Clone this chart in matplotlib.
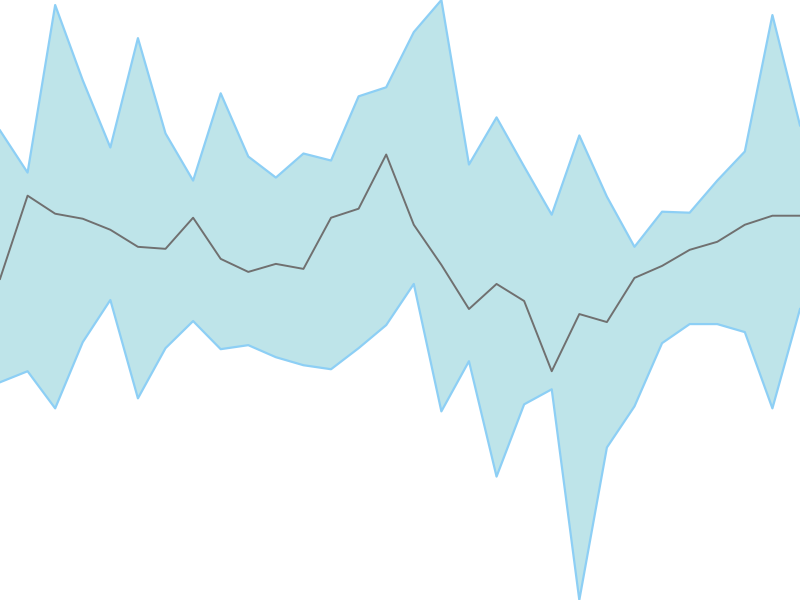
import matplotlib
matplotlib.use("Agg")
import matplotlib.pyplot as plt
import numpy as np

upper = [470, 428, 595, 520, 453, 562, 467, 420, 507, 444, 423, 447, 440, 504, 513, 568,
         600, 436, 483, 434, 386, 465, 404, 354, 389, 388, 420, 449, 585, 475]
middle = [322, 405, 387, 382, 371, 354, 352, 383, 342, 329, 337, 332, 383, 392, 446, 376,
          336, 292, 317, 300, 230, 287, 279, 323, 335, 351, 359, 376, 385, 385]
lower = [219, 230, 193, 259, 301, 203, 253, 280, 252, 256, 244, 236, 232, 253, 276, 317,
         190, 240, 125, 197, 212, 2, 154, 195, 258, 277, 277, 269, 193, 292]

x = np.arange(len(middle))

fig = plt.figure(figsize=(8, 6), dpi=100)
ax = fig.add_axes([0, 0, 1, 1])
ax.fill_between(x, lower, upper, color="#bee4e9", linewidth=0)
ax.plot(x, upper, color="#8dcff5", linewidth=1.6)
ax.plot(x, lower, color="#8dcff5", linewidth=1.6)
ax.plot(x, middle, color="#707070", linewidth=1.4)
ax.set_xlim(0, len(x) - 1)
ax.set_ylim(min(lower), max(upper))
ax.axis("off")
fig.savefig("out.png", dpi=100)
